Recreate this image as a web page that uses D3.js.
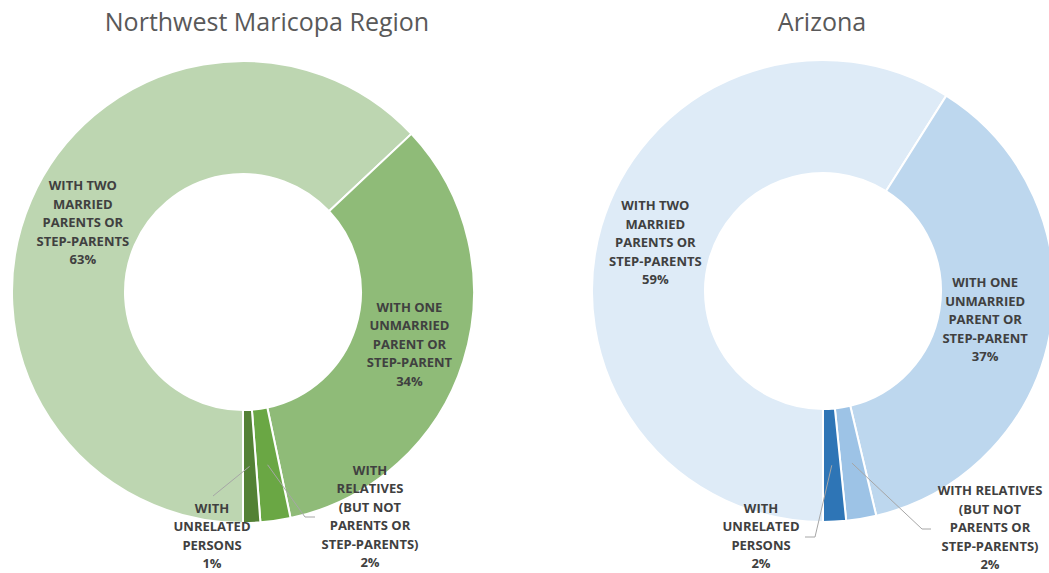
<!DOCTYPE html>
<html>
<head>
<meta charset="utf-8">
<script src="https://cdn.jsdelivr.net/npm/d3@7"></script>
<style>
  body { margin: 0; background: #fff; }
  svg { display: block; }
</style>
</head>
<body>
<div id="chart"></div>
<script>
// Data
const categories = [
  "With two married parents or step-parents",
  "With one unmarried parent or step-parent",
  "With relatives (but not parents or step-parents)",
  "With unrelated persons"
];
const nwValues = [63.0, 33.7, 2.1, 1.2];
const azValues = [58.9, 37.3, 2.1, 1.6];

const nwLines = [
  ["WITH TWO", "MARRIED", "PARENTS OR", "STEP-PARENTS"],
  ["WITH ONE", "UNMARRIED", "PARENT OR", "STEP-PARENT"],
  ["WITH", "RELATIVES", "(BUT NOT", "PARENTS OR", "STEP-PARENTS)"],
  ["WITH", "UNRELATED", "PERSONS"]
];
const azLines = [
  ["WITH TWO", "MARRIED", "PARENTS OR", "STEP-PARENTS"],
  ["WITH ONE", "UNMARRIED", "PARENT OR", "STEP-PARENT"],
  ["WITH RELATIVES", "(BUT NOT", "PARENTS OR", "STEP-PARENTS)"],
  ["WITH", "UNRELATED", "PERSONS"]
];

const nwColors = ["#bdd6b1", "#8fbb78", "#6aa744", "#538135"];
const azColors = ["#deebf7", "#bdd7ee", "#9dc3e6", "#2e75b6"];

// Layout
const W = 1049, H = 573;
const outerR = 231, innerR = 118;
const lineH = 18.5;

const charts = [
  {
    title: "Northwest Maricopa Region", values: nwValues, lines: nwLines, colors: nwColors,
    cx: 243, cy: 292, titleX: 267,
    // outside labels for the small slices: label centre + leader elbow points
    outside: {
      2: {x: 370, y: 516.5, path: [[305, 517], [315, 517]]},
      3: {x: 212, y: 536, path: [[213, 496]]}
    },
    nudge: {}
  },
  {
    title: "Arizona", values: azValues, lines: azLines, colors: azColors,
    cx: 823, cy: 291, titleX: 822,
    outside: {
      2: {x: 990, y: 527.5, path: [[922, 529], [931, 529]]},
      3: {x: 761, y: 536, path: [[815, 537], [805, 537]]}
    },
    nudge: {1: -10}
  }
];

const svg = d3.select("#chart")
  .append("svg")
    .attr("width", W)
    .attr("height", H);

const pie = d3.pie()
  .sort(null)
  .startAngle(Math.PI)
  .endAngle(3 * Math.PI);

const arc = d3.arc()
  .innerRadius(innerR)
  .outerRadius(outerR);

const labelColor = "#404040";
const labelFont = "'Open Sans', 'DejaVu Sans', sans-serif";

function drawLabel(g, lines, cx, cy) {
  const t = g.append("text")
    .attr("text-anchor", "middle")
    .attr("font-family", labelFont)
    .attr("font-size", "13px")
    .attr("font-weight", "bold")
    .attr("fill", labelColor);
  const top = cy - (lines.length - 1) * lineH / 2;
  lines.forEach((s, i) => {
    t.append("tspan")
      .attr("x", cx)
      .attr("y", top + i * lineH + 4.5)
      .text(s);
  });
}

charts.forEach(c => {
  // Title
  svg.append("text")
    .attr("x", c.titleX)
    .attr("y", 31)
    .attr("text-anchor", "middle")
    .attr("font-family", "'Open Sans', sans-serif")
    .attr("font-size", "25px")
    .attr("fill", "#595959")
    .text(c.title);

  const g = svg.append("g")
    .attr("transform", `translate(${c.cx},${c.cy})`);

  const arcs = pie(c.values);

  g.selectAll("path.slice")
    .data(arcs)
    .enter()
    .append("path")
      .attr("class", "slice")
      .attr("d", arc)
      .attr("fill", (d, i) => c.colors[i])
      .attr("stroke", "#fff")
      .attr("stroke-width", 2);

  arcs.forEach((d, i) => {
    const pct = Math.round(d.data) + "%";
    const lines = c.lines[i].concat([pct]);
    const [mx, my] = arc.centroid(d);
    const o = c.outside[i];
    if (o) {
      const pts = [[mx, my]].concat(o.path.map(p => [p[0] - c.cx, p[1] - c.cy]));
      g.append("path")
        .attr("d", d3.line()(pts))
        .attr("fill", "none")
        .attr("stroke", "#a6a6a6")
        .attr("stroke-width", 1);
      drawLabel(g, lines, o.x - c.cx, o.y - c.cy);
    } else {
      drawLabel(g, lines, mx + (c.nudge[i] || 0), my);
    }
  });
});
</script>
</body>
</html>
